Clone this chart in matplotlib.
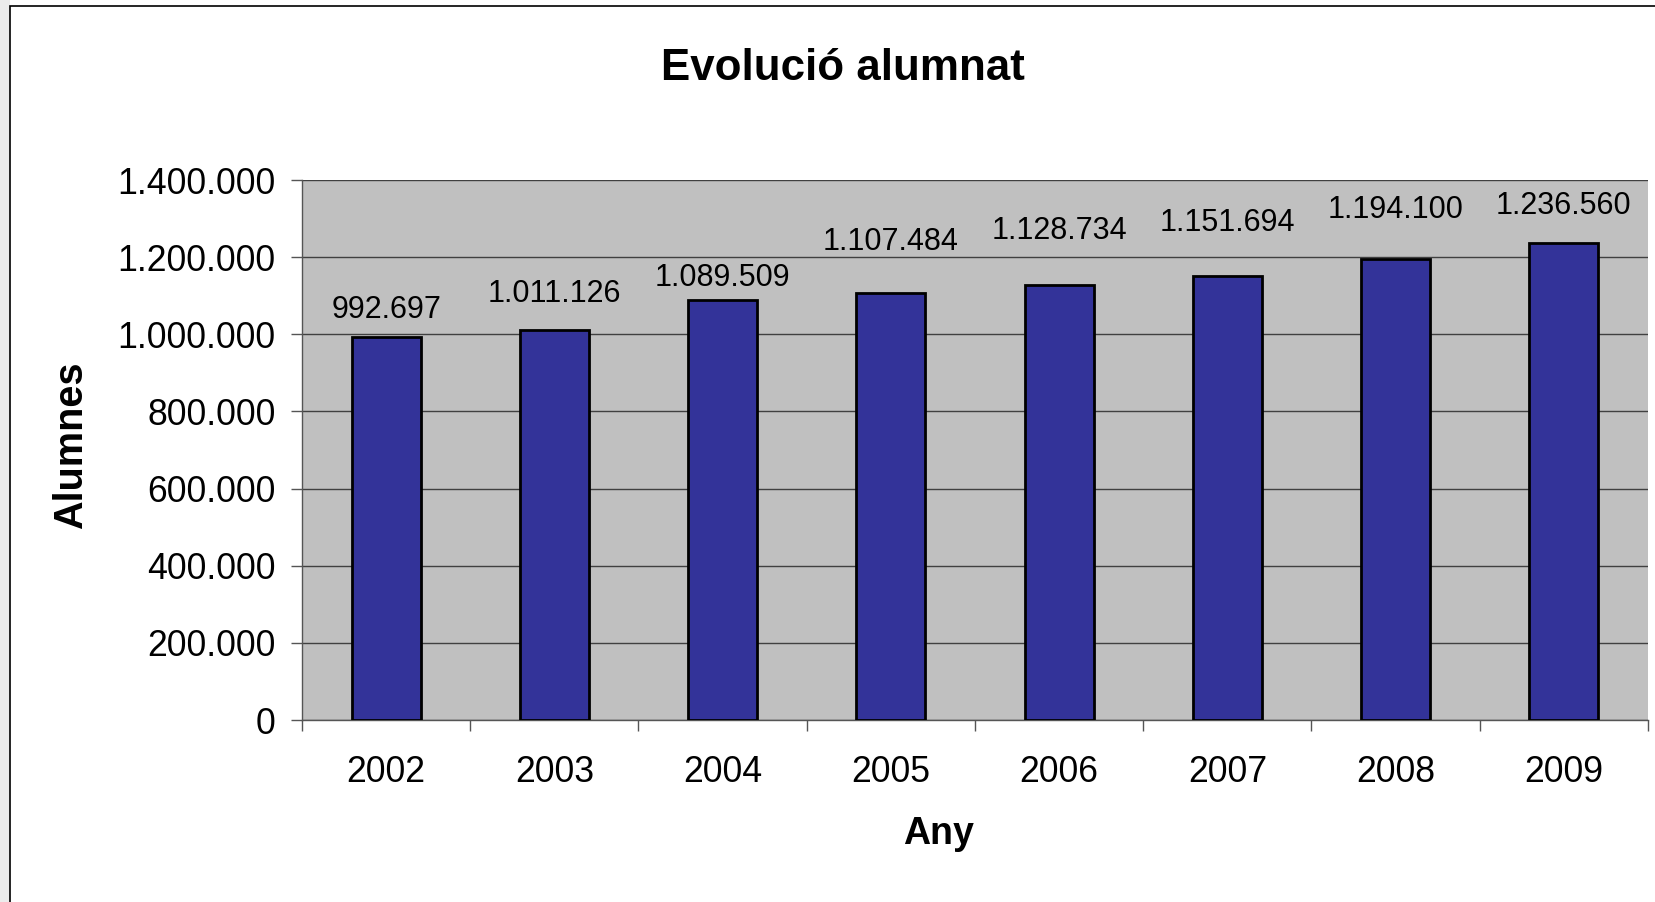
import numpy as np
import matplotlib
matplotlib.use("Agg")
from matplotlib import pyplot as plt
from matplotlib.patches import Rectangle

years = ['2002', '2003', '2004', '2005', '2006', '2007', '2008', '2009']
alumnes = [992697, 1011126, 1089509, 1107484, 1128734, 1151694, 1194100, 1236560]
y_ticks = [0, 200000, 400000, 600000, 800000, 1000000, 1200000, 1400000]

# how far above each bar its label sits (points), as in the original
label_gap = [14, 20, 10, 30.5, 32.5, 32, 30, 21]

plt.rcParams['font.family'] = ['Liberation Sans', 'DejaVu Sans']


def punts(v):
    # thousands separator with dots, catalan style
    return '{:,}'.format(int(v)).replace(',', '.')


W, H = 1656, 902
fig = plt.figure(figsize=(W / 100, H / 100), dpi=100)
fig.patch.set_facecolor('white')

# outer frame of the chart area
fig.patches.append(Rectangle((0, 0), 9.5 / W, 1, transform=fig.transFigure,
                             facecolor='#ececec', edgecolor='none', zorder=-10))
fig.patches.append(Rectangle((9.5 / W, -0.05), 1.1, 1 - 5.5 / H + 0.05,
                             transform=fig.transFigure, facecolor='white',
                             edgecolor='black', linewidth=1.2, zorder=-10))

ax = fig.add_axes([302 / W, 1 - 720 / H, (1648 - 302) / W, (720 - 180) / H])
ax.set_zorder(5)
ax.set_facecolor('#c0c0c0')

x = np.arange(len(years))
ax.bar(x, alumnes, width=0.41, color='#333399', edgecolor='black',
       linewidth=2.0, zorder=3)

for xi, v, g in zip(x, alumnes, label_gap):
    ax.annotate(punts(v), (xi, v), xytext=(0, g), textcoords='offset points',
                ha='center', va='baseline', fontsize=22)

ax.set_xlim(-0.5, len(years) - 0.5)
ax.set_ylim(0, 1400000)
ax.set_yticks(y_ticks)
ax.set_yticklabels([punts(t) for t in y_ticks], fontsize=25.7)
ax.set_xticks(x)
ax.set_xticklabels(years, fontsize=25.7)
ax.set_xticks(np.arange(len(years) + 1) - 0.5, minor=True)
ax.tick_params(axis='x', which='major', length=0, pad=25.5)
ax.tick_params(axis='x', which='minor', length=8, width=1, color='#555555')
ax.tick_params(axis='y', length=8, width=1, color='#555555', pad=11)

ax.yaxis.grid(True, color='#404040', linewidth=1.0, zorder=1)
ax.set_axisbelow(True)
for s in ['top', 'right']:
    ax.spines[s].set_visible(False)
for s in ['left', 'bottom']:
    ax.spines[s].set_color('#555555')
    ax.spines[s].set_linewidth(1.0)

fig.text(843 / W, 1 - 69 / H, 'Evolució alumnat', ha='center', va='center',
         fontsize=31.6, fontweight='bold')
fig.text(71 / W, 1 - 445 / H, 'Alumnes', ha='center', va='center',
         rotation=90, fontsize=28.5, fontweight='bold')
fig.text(939 / W, 1 - 834 / H, 'Any', ha='center', va='center',
         fontsize=27, fontweight='bold')

fig.savefig('out.png', dpi=100)
